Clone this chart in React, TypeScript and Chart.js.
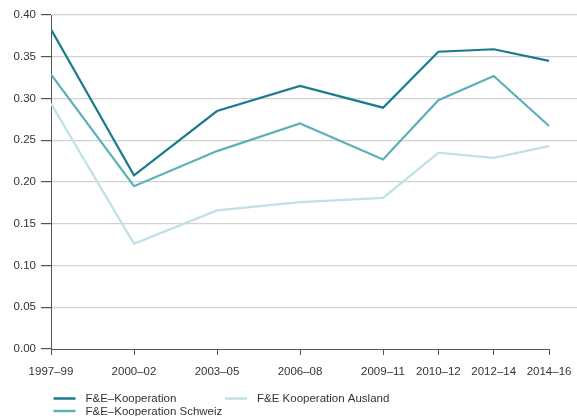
import React, { useEffect, useRef } from "react";
import { Chart, registerables } from "chart.js";

Chart.register(...registerables);

const periods = ["1997–99", "2000–02", "2003–05", "2006–08", "2009–11", "2010–12", "2012–14", "2014–16"];
const periodPositions = [0, 3, 6, 9, 12, 14, 16, 18];
const seriesNames = ["F&E–Kooperation", "F&E–Kooperation Schweiz", "F&E Kooperation Ausland"];
const kooperation = [0.383, 0.208, 0.285, 0.315, 0.289, 0.356, 0.359, 0.345];
const schweiz = [0.329, 0.195, 0.237, 0.27, 0.227, 0.298, 0.327, 0.267];
const ausland = [0.294, 0.126, 0.166, 0.176, 0.181, 0.235, 0.229, 0.243];
const yTicks = [0, 0.05, 0.1, 0.15, 0.2, 0.25, 0.3, 0.35, 0.4];

const FONT = "'Liberation Sans', Arial, Helvetica, sans-serif";
const TEXT = "#333333";
const AXIS = "#555555";
const COLORS = ["#1b7b8d", "#5bb0ba", "#bfe0e5"];

const toPoints = (vals: number[]) => vals.map((v, i) => ({ x: periodPositions[i], y: v }));

const axisLinePlugin = {
  id: "axisLine",
  afterDraw(chart: any) {
    const { ctx, chartArea, scales } = chart;
    const x0 = scales.x.getPixelForValue(periodPositions[0]);
    const x1 = scales.x.getPixelForValue(periodPositions[periodPositions.length - 1]);
    const y = Math.round(chartArea.bottom) + 0.5;
    ctx.save();
    ctx.strokeStyle = AXIS;
    ctx.lineWidth = 1;
    ctx.beginPath();
    ctx.moveTo(x0, y);
    ctx.lineTo(x1 + 0.5, y);
    ctx.stroke();
    ctx.restore();
  },
};

const legendPlugin = {
  id: "gridLegend",
  afterDraw(chart: any) {
    const { ctx, chartArea } = chart;
    const cols = [chartArea.left + 2.5, chartArea.left + 174];
    const rows = [chartArea.bottom + 49.5, chartArea.bottom + 62];
    const slots = [
      [0, 0],
      [0, 1],
      [1, 0],
    ];
    ctx.save();
    ctx.font = `11.5px ${FONT}`;
    ctx.textBaseline = "middle";
    ctx.textAlign = "left";
    chart.data.datasets.forEach((ds: any, i: number) => {
      const [c, r] = slots[i];
      const x = cols[c];
      const y = rows[r];
      ctx.strokeStyle = ds.borderColor;
      ctx.lineWidth = 2.5;
      ctx.beginPath();
      ctx.moveTo(x, y);
      ctx.lineTo(x + 22, y);
      ctx.stroke();
      ctx.fillStyle = TEXT;
      ctx.fillText(ds.label, x + 32, y + 0.5);
    });
    ctx.restore();
  },
};

export default function App() {
  const canvasRef = useRef<HTMLCanvasElement | null>(null);

  useEffect(() => {
    if (!canvasRef.current) return;
    const chart = new Chart(canvasRef.current, {
      type: "line",
      data: {
        datasets: [kooperation, schweiz, ausland].map((vals, i) => ({
          label: seriesNames[i],
          data: toPoints(vals),
          borderColor: COLORS[i],
          backgroundColor: COLORS[i],
          borderWidth: 2.2,
          pointRadius: 0,
          tension: 0,
          fill: false,
        })),
      },
      options: {
        animation: false,
        responsive: true,
        maintainAspectRatio: false,
        layout: { padding: { top: 15, left: 0, right: 0, bottom: 37 } },
        plugins: {
          legend: { display: false },
          tooltip: { enabled: false },
          title: { display: false },
        },
        scales: {
          x: {
            type: "linear",
            min: 0,
            max: 19.01,
            afterBuildTicks: (scale: any) => {
              scale.ticks = periodPositions.map((v) => ({ value: v }));
            },
            afterFit: (scale: any) => {
              scale.height = 30;
              scale.paddingLeft = 0;
              scale.paddingRight = 0;
            },
            ticks: {
              autoSkip: false,
              maxRotation: 0,
              padding: 9.5,
              color: TEXT,
              font: { family: FONT, size: 11.5 },
              callback: (value: any) => {
                const idx = periodPositions.indexOf(Number(value));
                return idx >= 0 ? periods[idx] : "";
              },
            },
            grid: {
              drawOnChartArea: false,
              drawTicks: true,
              tickLength: 6,
              tickColor: AXIS,
            },
            border: { display: false },
          },
          y: {
            min: 0,
            max: 0.4,
            afterBuildTicks: (scale: any) => {
              scale.ticks = yTicks.map((v) => ({ value: v }));
            },
            afterFit: (scale: any) => {
              scale.width = 51;
            },
            ticks: {
              padding: 5,
              color: TEXT,
              font: { family: FONT, size: 11.5 },
              callback: (value: any) => Number(value).toFixed(2),
            },
            grid: {
              color: (ctx: any) => (ctx.tick && ctx.tick.value === 0 ? "rgba(0,0,0,0)" : "#d2d2d2"),
              lineWidth: 1.2,
              tickLength: 10,
              tickColor: AXIS,
            },
            border: { display: true, color: AXIS, width: 1 },
          },
        },
      },
      plugins: [axisLinePlugin, legendPlugin],
    });
    return () => chart.destroy();
  }, []);

  return (
    <div style={{ position: "fixed", left: 0, top: 0, width: 577, height: 416, background: "#fff" }}>
      <canvas ref={canvasRef} />
    </div>
  );
}
